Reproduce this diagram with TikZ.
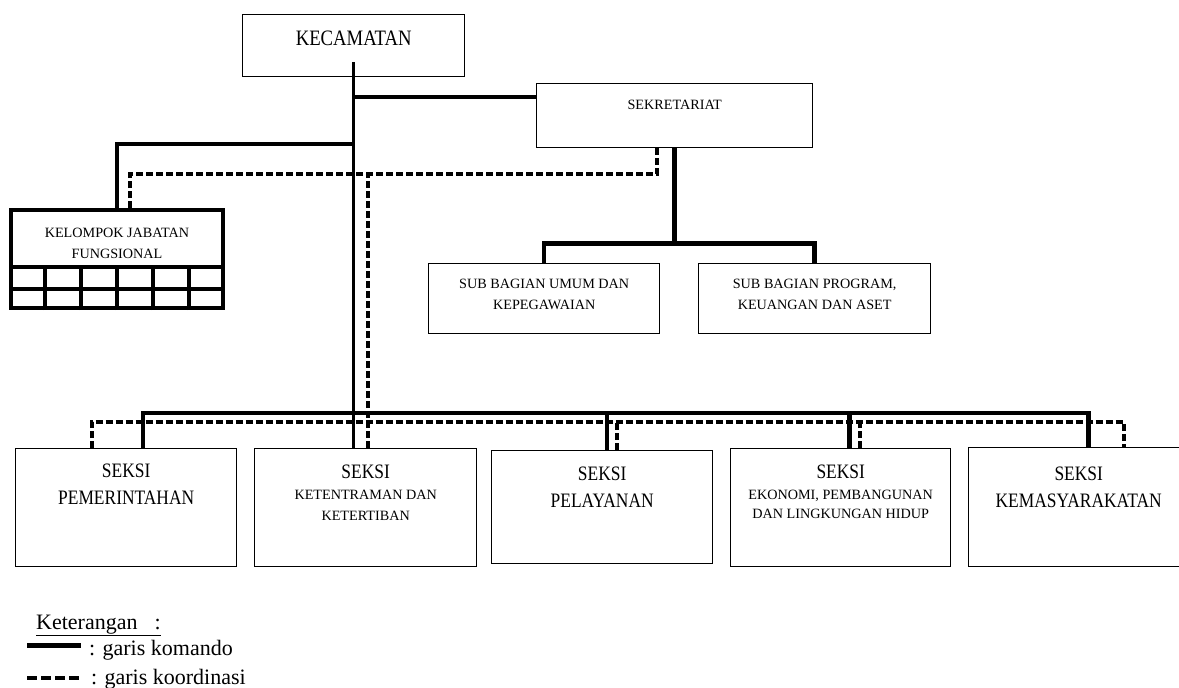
\documentclass[tikz,border=0pt]{standalone}
\usepackage{fontspec}
\setmainfont{Liberation Serif}
\newfontfamily\sempit[FakeStretch=0.85]{Liberation Serif}
\usetikzlibrary{calc}

\newcommand\judulfont{\sempit\fontsize{22}{26}\selectfont}
\newcommand\seksifont{\sempit\fontsize{20.5}{27}\selectfont}
\newcommand\isifont{\fontsize{14.2}{21}\selectfont}
\newcommand\ketfont{\fontsize{22}{26}\selectfont}

\begin{document}
\begin{tikzpicture}[x=1pt,y=-1pt,
					unit box/.style={draw,line width=1.4pt,inner sep=0pt,align=center,anchor=north west},
					komando line/.style={line width=4.5pt},
					koordinasi line/.style={line width=4pt,dash pattern=on 7pt off 3pt},
					grid line/.style={line width=4pt}]

  \useasboundingbox (0,0) rectangle (1179,688);

  \node[unit box,minimum width=222pt,minimum height=62pt,text height=30.5pt,text depth=31.5pt,font=\judulfont] (kec) at (242,14) {KECAMATAN};
  \node[unit box,minimum width=276pt,minimum height=64pt,text height=25.7pt,text depth=38.3pt,font=\isifont] (sek) at (536,83) {SEKRETARIAT};
  \node[unit box,line width=4pt,minimum width=212pt,minimum height=98pt,text height=48.7pt,text depth=49.3pt,font=\isifont] (kjf) at (9,208) {KELOMPOK JABATAN\\FUNGSIONAL};
  \node[unit box,minimum width=231pt,minimum height=70pt,text height=45.7pt,text depth=24.3pt,font=\isifont] (sub1) at (428,263) {SUB BAGIAN UMUM DAN\\KEPEGAWAIAN};
  \node[unit box,minimum width=232pt,minimum height=70pt,text height=45.7pt,text depth=24.3pt,font=\isifont] (sub2) at (698,263) {SUB BAGIAN PROGRAM,\\KEUANGAN DAN ASET};

  \node[unit box,minimum width=221pt,minimum height=118pt,text height=55.7pt,text depth=62.3pt,font=\seksifont] (s1) at (15,448) {SEKSI\\PEMERINTAHAN};
  \node[unit box,minimum width=222pt,minimum height=118pt,text height=71.7pt,text depth=46.3pt,font=\isifont] (s2) at (254,448) {{\seksifont SEKSI}\\KETENTRAMAN DAN\\KETERTIBAN};
  \node[unit box,minimum width=221pt,minimum height=113pt,text height=56.7pt,text depth=56.3pt,font=\seksifont] (s3) at (491,450) {SEKSI\\PELAYANAN};
  \node[unit box,minimum width=220pt,minimum height=118pt,text height=69.7pt,text depth=48.3pt,font=\isifont] (s4) at (730,448) {{\seksifont SEKSI}\\EKONOMI, PEMBANGUNAN\\[-2pt]DAN LINGKUNGAN HIDUP};
  \node[unit box,minimum width=220pt,minimum height=119pt,text height=59.7pt,text depth=59.3pt,font=\seksifont] (s5) at (968,447) {SEKSI\\KEMASYARAKATAN};

  % kisi jabatan fungsional
  \foreach \i in {1,...,5}
    \draw[grid line] ($(kjf.south west)!\i/6!(kjf.south east)$) -- ++(0,-43);
  \draw[grid line] ($(kjf.south west)+(0,-43)$) -- ($(kjf.south east)+(0,-43)$);
  \draw[grid line] ($(kjf.south west)+(0,-21)$) -- ($(kjf.south east)+(0,-21)$);

  % garis komando
  \coordinate (kecfoot) at ($(kec.south)+(0,-15)$);
  \draw[line width=2.5pt] (kecfoot) -- (kecfoot |- s2.north);
  \coordinate (sekin) at ($(sek.north west)+(0,14)$);
  \draw[komando line] (sekin) -- (sekin -| kecfoot);
  \draw[komando line] (kjf.north) |- ($(kecfoot |- kjf.north)+(0,-64)$);
  \draw[komando line] (sek.south) -- ++(0,95) coordinate (subbar);
  \draw[komando line] (sub1.north) |- (subbar) -| (sub2.north);

  \coordinate (cbar) at ($(s2.north)+(0,-35)$);
  \coordinate (k1) at ($(s1.north)+(17,0)$);
  \coordinate (k5) at ($(s5.north)+(10,0)$);
  \draw[komando line] (k1) -- (k1 |- cbar) -- (k5 |- cbar) -- (k5);
  \foreach \n/\dx in {s3/5,s4/9}
    \draw[komando line] ($(\n.north)+(\dx,0)$) coordinate (k) -- (k |- cbar);

  % garis koordinasi
  \coordinate (dtop) at ($(sek.south)+(0,26)$);
  \coordinate (dsek) at ($(sek.south)+(-18,0)$);
  \draw[koordinasi line] ($(kjf.north)+(13,0)$) |- (dsek |- dtop) -- (dsek);
  \draw[koordinasi line] ($(s2.north)+(2,0)$) coordinate (d) -- (d |- dtop);

  \coordinate (dbar) at ($(s2.north)+(0,-26)$);
  \coordinate (d1) at ($(s1.north)+(-34.5,0)$);
  \coordinate (d5) at ($(s5.north)+(45,0)$);
  \draw[koordinasi line] (d1) -- (d1 |- dbar) -- (d5 |- dbar) -- (d5);
  \foreach \n/\dx in {s3/14.5,s4/19}
    \draw[koordinasi line] ($(\n.north)+(\dx,0)$) coordinate (d) -- (d |- dbar);

  % keterangan
  \node[anchor=base west,inner sep=0pt,font=\ketfont] (ket) at (36,629) {\underline{Keterangan\hspace{17pt}:}};
  \node[anchor=base west,inner sep=0pt,font=\ketfont] (kom) at (89,655) {: garis komando};
  \node[anchor=base west,inner sep=0pt,font=\ketfont] (koo) at (91,684) {: garis koordinasi};
  \draw[komando line,line width=5pt] ($(kom.base west)+(-62,-10)$) -- ++(54,0);
  \draw[koordinasi line,dash pattern=on 10pt off 4pt] ($(koo.base west)+(-64,-6)$) -- ++(54,0);
\end{tikzpicture}
\end{document}
